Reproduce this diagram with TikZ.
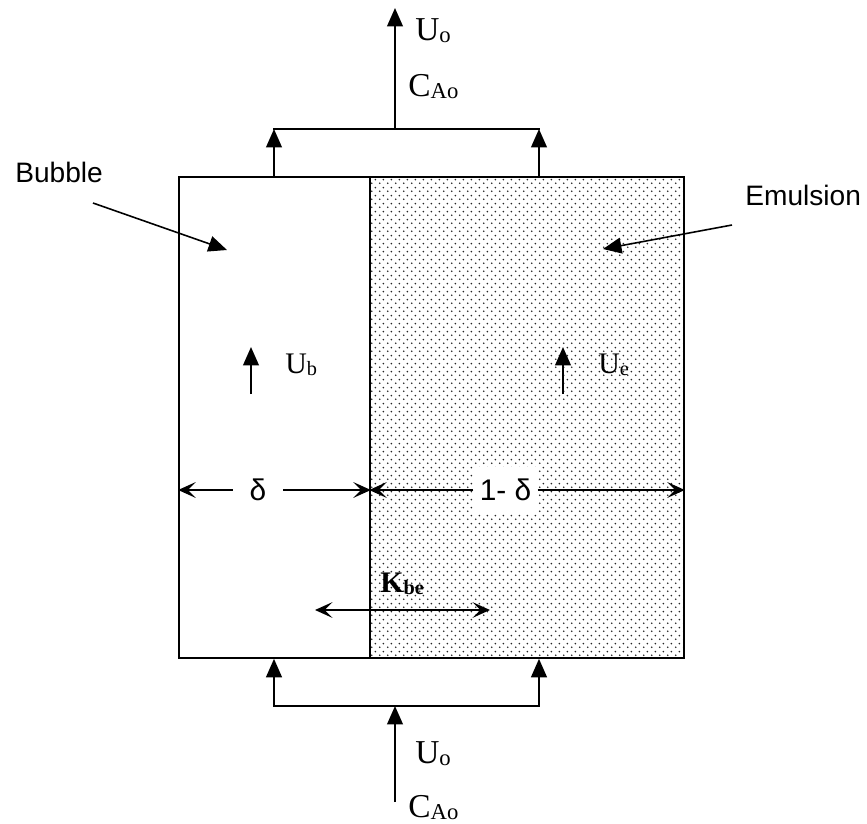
\documentclass[tikz,border=0pt]{standalone}
\usepackage{fontspec}
\setmainfont{Liberation Serif}
\newfontfamily\arialfont{Liberation Sans}
\usetikzlibrary{arrows.meta,patterns}

% staggered dot fill for the emulsion phase
\pgfdeclarepatternformonly{emuldots}{\pgfpointorigin}{\pgfqpoint{4.3pt}{4.3pt}}%
  {\pgfqpoint{4.3pt}{4.3pt}}{%
  \pgfpathcircle{\pgfqpoint{1.07pt}{1.07pt}}{0.55pt}%
  \pgfpathcircle{\pgfqpoint{3.22pt}{3.22pt}}{0.55pt}%
  \pgfusepath{fill}}

\newcommand{\lowsub}[1]{\raisebox{-0.15ex}{\scalebox{0.68}{#1}}}

\begin{document}
\begin{tikzpicture}[x=0.02cm,y=-0.02cm,
  phase/.style={draw,line width=1pt,minimum height=9.62cm,inner sep=0pt},
  flow/.style={line width=1pt,-{Triangle[length=10.5pt,width=9pt]}},
  pointer/.style={line width=0.9pt,-{Triangle[length=10.5pt,width=9pt]}},
  dimtip/.style={line width=1pt,-{Stealth[length=10pt,width=9pt,inset=4.5pt]}},
  stream/.style={font=\fontsize{19}{22}\selectfont,inner sep=0pt,anchor=base west},
  local/.style={font=\fontsize{17}{20}\selectfont,inner sep=0pt,anchor=base west},
  tag/.style={font=\arialfont\fontsize{16}{19}\selectfont,inner sep=0pt,anchor=base west},
  dimlabel/.style={font=\arialfont\fontsize{17}{20}\selectfont,inner ysep=0.24cm}]
  \useasboundingbox (0,0) rectangle (867,823);

  % --- Two phases of the bed ---
  \node[phase,minimum width=3.82cm] (bubble) at (274.5,417.5) {};
  \node[phase,minimum width=6.28cm,pattern=emuldots,pattern color=black!85]
    (emulsion) at (527,417.5) {};

  % --- Feed manifold (bottom) and exit manifold (top) ---
  \coordinate (inL) at (274,706);
  \coordinate (inR) at (539,706);
  \coordinate (inM) at (395,706);
  \coordinate (feed) at (395,802);
  \coordinate (outL) at (274,129);
  \coordinate (outR) at (539,129);
  \coordinate (outM) at (395,129);
  \coordinate (exit) at (395,8);

  \draw[flow] (feed) -- (inM);
  \draw[line width=1pt,line cap=rect] (inL) -- (inR);
  \draw[flow] (inL) -- (inL |- bubble.south);
  \draw[flow] (inR) -- (inR |- emulsion.south);

  \draw[line width=1pt,line cap=rect] (outL) -- (outR);
  \draw[flow] (outL |- bubble.north) -- (outL);
  \draw[flow] (outR |- emulsion.north) -- (outR);
  \draw[flow] (outM) -- (exit);

  \node[stream] (uout) at (415,40) {U\lowsub{o}};
  \node[stream] (cout) at (408,96) {C\lowsub{Ao}};
  \node[stream] (uin) at (415,763) {U\lowsub{o}};
  \node[stream] (cin) at (408,817) {C\lowsub{Ao}};

  % --- Rise velocities ---
  \coordinate (ubfoot) at (251,394);
  \coordinate (ubhead) at (251,347);
  \coordinate (uefoot) at (563,394);
  \coordinate (uehead) at (563,347);
  \draw[flow] (ubfoot) -- (ubhead);
  \draw[flow] (uefoot) -- (uehead);
  \node[local] (ub) at (285,373) {U\lowsub{b}};
  \node[local] (ue) at (598,373) {U\lowsub{e}};

  % --- Phase fractions ---
  \node[dimlabel,inner xsep=0.33cm] (delta) at (258,490) {δ};
  \node[dimlabel,inner xsep=0.12cm,fill=white] (rest) at (505.5,490) {1- δ};
  \draw[dimtip] (delta.west) -- (bubble.west |- delta);
  \draw[dimtip] (delta.east) -- (bubble.east |- delta);
  \draw[dimtip] (rest.west) -- (emulsion.west |- rest);
  \draw[dimtip] (rest.east) -- (emulsion.east |- rest);

  % --- Interphase exchange ---
  \coordinate (kL) at (315,610);
  \coordinate (kR) at (490,610);
  \draw[line width=1pt,{Stealth[length=10pt,width=9pt,inset=4.5pt]}-{Stealth[length=10pt,width=9pt,inset=4.5pt]}]
    (kL) -- (kR);
  \node[local,font=\fontsize{17}{20}\selectfont\bfseries] (kbe) at (380,592) {K\lowsub{be}};

  % --- Phase names ---
  \node[tag] (bubtag) at (15,182) {Bubble};
  \node[tag] (emutag) at (745,205) {Emulsion};
  \coordinate (bubtail) at (93,203);
  \coordinate (bubtip) at (227,250);
  \coordinate (emutail) at (732,225);
  \coordinate (emutip) at (603,249);
  \draw[pointer] (bubtail) -- (bubtip);
  \draw[pointer] (emutail) -- (emutip);
\end{tikzpicture}
\end{document}
